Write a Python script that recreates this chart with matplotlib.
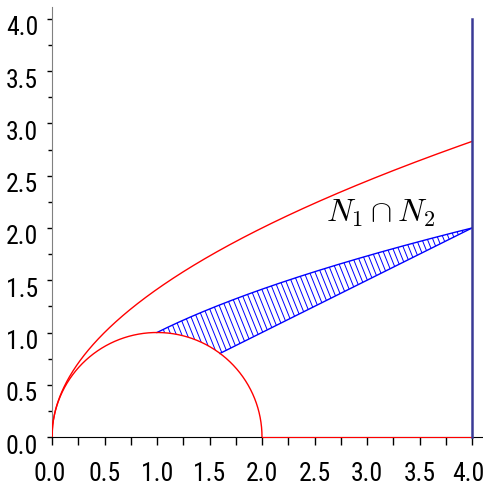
import numpy as np
import matplotlib
matplotlib.use('Agg')
import matplotlib.pyplot as plt
from matplotlib.patches import Polygon
from matplotlib.ticker import MultipleLocator, FixedLocator, FixedFormatter
import matplotlib.transforms as mtrans
from matplotlib import font_manager

plt.rcParams['mathtext.fontset'] = 'cm'

# pick a narrow sans font for tick labels (first one installed)
tick_fp = None
preferred = ['Liberation Sans Narrow', 'Arial Narrow', 'Roboto Condensed', 'Archivo Narrow', 'DejaVu Sans Condensed']
fonts = [f for f in font_manager.fontManager.ttflist if f.style == 'normal']
for pref in preferred:
    hits = [f for f in fonts if f.name == pref]
    if hits:
        hits.sort(key=lambda f: abs((f.weight if isinstance(f.weight, int) else 400) - 400))
        tick_fp = font_manager.FontProperties(fname=hits[0].fname)
        break
if tick_fp is None:
    tick_fp = font_manager.FontProperties(family='DejaVu Sans')

# ---- data ----
x_ticks = [0.0, 0.5, 1.0, 1.5, 2.0, 2.5, 3.0, 3.5, 4.0]
y_ticks = [0.0, 0.5, 1.0, 1.5, 2.0, 2.5, 3.0, 3.5, 4.0]
tick_labels = ['0.0', '0.5', '1.0', '1.5', '2.0', '2.5', '3.0', '3.5', '4.0']
circle_center = (1.0, 0.0)
circle_radius = 1.0
outer_coef = 2.0        # red curve  y^2 = 2x
inner_coef = 1.0        # blue curve y^2 = x
chord_slope = 0.5       # blue line  y = x/2
x_right = 4.0           # vertical line x = 4
y_top_line = 4.0
region_x = [1.0, 1.6, 4.0]   # left corner, circle/chord meet, right corner
label_text = r'$N_1\cap N_2$'
label_pos = (3.13, 2.14)

# ---- figure ----
W, H = 483, 486
fig = plt.figure(figsize=(W / 100, H / 100), dpi=100)
ax = fig.add_axes([52 / W, 49 / H, 431 / W, 430 / H])
ax.set_xlim(0, 431 / 105)
ax.set_ylim(0, 430 / 104.5)

red = '#ff0000'
blue = '#0000ff'
navy = '#3a3a96'

xs = np.linspace(0, x_right, 600)
ax.plot(xs, np.sqrt(outer_coef * xs), color=red, lw=1.0, zorder=3)

t = np.linspace(0, np.pi, 400)
ax.plot(circle_center[0] + circle_radius * np.cos(t),
        circle_center[1] + circle_radius * np.sin(t), color=red, lw=1.0, zorder=4)

ax.plot([circle_center[0] + circle_radius, x_right], [0, 0], color=red, lw=0.8, zorder=4, clip_on=False)

xa, xb, xc = region_x
xu = np.linspace(xa, xc, 300)
upper = np.column_stack([xu, np.sqrt(inner_coef * xu)])
xl = np.linspace(xc, xb, 100)
lower_line = np.column_stack([xl, chord_slope * xl])
ang = np.linspace(np.arccos((xb - circle_center[0]) / circle_radius), np.pi / 2, 100)
arc = np.column_stack([circle_center[0] + circle_radius * np.cos(ang),
                       circle_center[1] + circle_radius * np.sin(ang)])
poly_pts = np.vstack([upper, lower_line, arc])
poly = Polygon(poly_pts, closed=True, facecolor='none', edgecolor='none')
ax.add_patch(poly)

hatch_dx = 0.052
slope = -2.5
for x0 in np.arange(0.5, 5.0, hatch_dx):
    yy = np.array([-1.0, 3.0])
    xx = x0 + (yy - 1.0) / slope
    ln, = ax.plot(xx, yy, color=blue, lw=0.7, zorder=2)
    ln.set_clip_path(poly)

ax.plot(upper[:, 0], upper[:, 1], color=blue, lw=1.0, zorder=3)
ax.plot(lower_line[:, 0], lower_line[:, 1], color=blue, lw=1.0, zorder=3)

ax.plot([x_right, x_right], [0, y_top_line], color=navy, lw=1.8, zorder=5, clip_on=False)

ax.text(label_pos[0], label_pos[1], label_text, fontsize=23, ha='center', va='center', zorder=6)

# ---- axes styling ----
for s in ['top', 'right']:
    ax.spines[s].set_visible(False)
ax.spines['left'].set_color('#808080')
ax.spines['bottom'].set_color('#000000')

ax.xaxis.set_major_locator(FixedLocator(x_ticks))
ax.yaxis.set_major_locator(FixedLocator(y_ticks))
ax.xaxis.set_major_formatter(FixedFormatter(tick_labels))
ax.yaxis.set_major_formatter(FixedFormatter(tick_labels))
ax.xaxis.set_minor_locator(MultipleLocator(0.25))
ax.yaxis.set_minor_locator(MultipleLocator(0.25))
ax.tick_params(axis='x', which='both', direction='out', length=6, width=1.0, colors='black')
ax.tick_params(axis='y', which='major', direction='out', length=3.6, width=1.0, colors='black')
ax.tick_params(axis='y', which='minor', direction='out', length=2.8, width=1.0, colors='black')
ax.tick_params(axis='x', which='major', pad=12)
ax.tick_params(axis='y', which='major', pad=6.5)

off = mtrans.ScaledTranslation(0, -7 / 100, fig.dpi_scale_trans)
for lab in ax.get_yticklabels():
    lab.set_fontproperties(tick_fp)
    lab.set_fontsize(18.5)
    lab.set_transform(lab.get_transform() + off)
xlabs = ax.get_xticklabels()
for lab in xlabs:
    lab.set_fontproperties(tick_fp)
    lab.set_fontsize(18.5)
xlabs[-1].set_transform(xlabs[-1].get_transform() + mtrans.ScaledTranslation(-4 / 100, 0, fig.dpi_scale_trans))
xlabs[0].set_transform(xlabs[0].get_transform() + mtrans.ScaledTranslation(-2 / 100, 0, fig.dpi_scale_trans))

fig.savefig('out.png', dpi=100)
